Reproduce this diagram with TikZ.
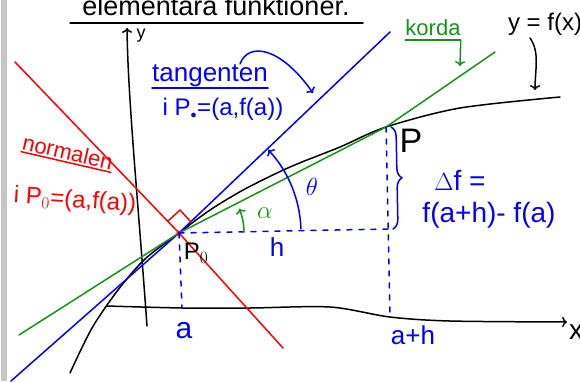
\documentclass[tikz,border=0pt]{standalone}
\usepackage{amsmath}
\usepackage{fontspec}
\setmainfont{Liberation Sans}
\usepackage{tikz}
\usetikzlibrary{positioning, arrows.meta, decorations.pathreplacing, calc}
\usepackage{xcolor}
\definecolor{penred}{RGB}{255,0,0}
\definecolor{penblue}{RGB}{0,0,255}
\definecolor{pengreen}{RGB}{25,145,25}

\begin{document}
\begin{tikzpicture}[x=1pt, y=-1pt, line cap=round, line join=round,
  pen/.style={line width=1.5pt},
  dashpen/.style={line width=1.5pt, penblue, dash pattern=on 5pt off 7pt},
  lbl/.style={inner sep=0pt, font=\fontsize{#1}{#1}\selectfont},
  lbl/.default=22]
\useasboundingbox (0,0) rectangle (580,381);
\fill[gray!45] (1,0) rectangle (7,381);

\coordinate (P0) at (179,233);
\coordinate (P) at (386,127);

% axes and curve
\draw[pen, ->] (147,326) .. controls (138,200) and (128,100) .. (127,28);
\draw[pen, ->] plot[smooth] coordinates {(107,306) (183,308) (250,308) (330,307) (390,317) (450,321) (567,322)};
\draw[pen] plot[smooth] coordinates {(70,373) (92,328) (118,290) (145,259) (179,233) (210,210) (245,189) (290,167) (340,147) (386,127) (460,108) (560,97)};

% lines through P0
\draw[pen, penred] (15,62) -- (P0) -- (283,348);
\draw[pen, penblue] (11,381) -- (P0) -- (390,32);
\draw[pen, pengreen] (19,335) -- (P0) -- (P) -- (495,52);
\draw[pen, penred] ($(P0)+(-11,-12)$) -- ($(P0)+(1,-23)$) -- ($(P0)+(12,-11)$);
\fill[penred] (P0) circle (2.5);

% h and delta f
\draw[dashpen] (P0) -- (388,229);
\draw[dashpen] (P) -- (390,317);
\draw[dashpen] (P0) -- (182,308);
\draw[pen, penblue, decorate, decoration={brace, amplitude=10pt}] ($(P)+(5,0)$) -- (393,229);

% angles
\draw[pen, penblue, ->] ($(P0)+(-2:122)$) arc[start angle=-2, end angle=-43, radius=122];
\draw[pen, pengreen, ->] ($(P0)+(-1:65)$) arc[start angle=-1, end angle=-22, radius=65];

% labels
\node[lbl=27, anchor=base] (title) at (216,15) {elementära funktioner.};
\draw[pen] (70,23) -- (363,23);
\node[lbl=18] (ylab) at (141,36) {y};
\node[lbl=28] (xlab) at (576,332) {x};

\node[lbl=26, anchor=base, penblue] (tang) at (210,81) {tangenten};
\draw[pen, penblue] (tang.south west |- 0,88) -- (tang.south east |- 0,88);
\node[lbl=24, penblue] (tangpt) at (223,109) {i P$_{\scriptscriptstyle\bullet}$=(a,f(a))};
\coordinate (tangtip) at (313,93);
\draw[pen, penblue, ->] (240,64) .. controls (248,42) and (280,46) .. (tangtip);

\node[lbl=22, rotate=-13, anchor=south, penred] (norm) at (66,160) {normalen};
\draw[pen, penred] ([yshift=-2pt]norm.south west) -- ([yshift=-2pt]norm.south east);
\node[lbl=24, rotate=-4, penred] (normpt) at (75,201) {i P$_0$=(a,f(a))};

\node[lbl=22, anchor=base, pengreen] (korda) at (433,35) {korda};
\draw[pen, pengreen] (korda.south west |- 0,40) -- (korda.south east |- 0,40);
\coordinate (kordatip) at (460,66);
\draw[pen, pengreen, ->] (korda.south east |- 0,40) -- (kordatip);

\node[lbl=24] (fx) at (545,24) {y = f(x)};
\coordinate (fxtip) at (535,90);
\draw[pen, ->] (530,38) .. controls (540,52) and (535,70) .. (fxtip);

\node[lbl=34] (Plab) at (411,141) {P};
\node[lbl=24] (P0lab) at (196,253) {P$_0$};
\node[lbl=28, penblue] (dflab) at (460,180) {$\Delta$f =};
\node[lbl=28, penblue] (dfval) at (489,215) {f(a+h)- f(a)};
\node[lbl=24, penblue] (theta) at (312,187) {$\theta$};
\node[lbl=26, pengreen] (alpha) at (265,213) {$\alpha$};
\node[lbl=26, penblue] (hlab) at (277,247) {h};
\node[lbl=30, penblue] (alab) at (184,331) {a};
\node[lbl=26, penblue] (ahlab) at (413,335) {a+h};
\end{tikzpicture}
\end{document}
